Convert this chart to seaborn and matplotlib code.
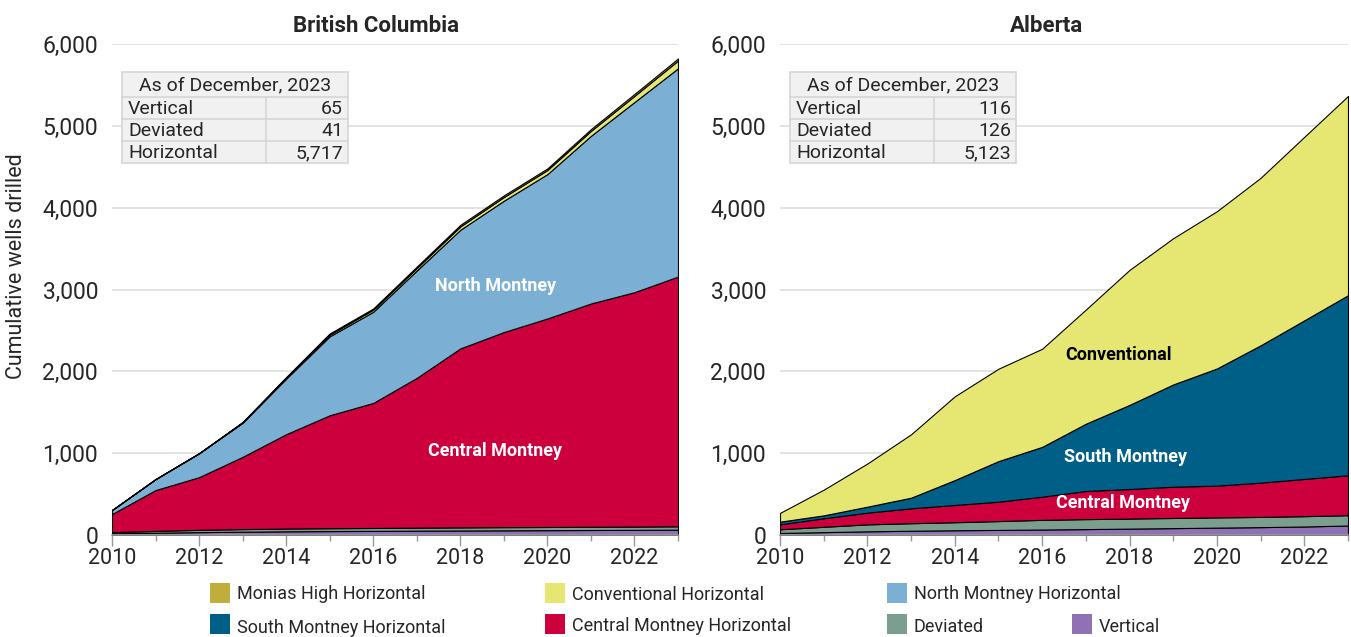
import numpy as np
import pandas as pd
import matplotlib
matplotlib.use("Agg")
import matplotlib.pyplot as plt
from matplotlib.patches import Rectangle
from matplotlib.lines import Line2D
import seaborn as sns

# ---------------- data ----------------
years = list(range(2010, 2024))

bc_vertical = [20, 28, 35, 40, 45, 48, 50, 53, 55, 57, 59, 61, 63, 65]
bc_deviated = [15, 22, 28, 32, 34, 35, 36, 37, 38, 39, 39, 40, 40, 41]
bc_central = [221, 499, 644, 883, 1153, 1380, 1528, 1830, 2187, 2384, 2548, 2728, 2864, 3052]
bc_north = [49, 134, 291, 417, 679, 965, 1114, 1312, 1450, 1605, 1764, 2049, 2324, 2545]
bc_conventional = [0, 0, 2, 5, 10, 20, 25, 30, 40, 45, 50, 60, 75, 95]
bc_monias = [0, 0, 0, 5, 10, 15, 15, 18, 20, 20, 20, 22, 24, 25]

ab_vertical = [25, 35, 45, 52, 58, 62, 67, 72, 78, 84, 90, 96, 104, 116]
ab_deviated = [45, 65, 85, 92, 98, 108, 118, 122, 123, 124, 125, 125, 126, 126]
ab_central = [60, 104, 143, 182, 211, 237, 283, 344, 361, 382, 388, 419, 455, 488]
ab_south = [33, 36, 73, 130, 304, 496, 609, 822, 1028, 1250, 1432, 1678, 1938, 2200]
ab_conventional = [107, 314, 528, 775, 1024, 1129, 1199, 1395, 1650, 1787, 1922, 2047, 2243, 2435]

bc_table = [["Vertical", "65"], ["Deviated", "41"], ["Horizontal", "5,717"]]
ab_table = [["Vertical", "116"], ["Deviated", "126"], ["Horizontal", "5,123"]]
table_header = "As of December, 2023"

colors = {
    "Monias High Horizontal": "#BFAE3B",
    "Conventional Horizontal": "#E6E673",
    "North Montney Horizontal": "#7BAFD4",
    "South Montney Horizontal": "#005F87",
    "Central Montney Horizontal": "#CC003D",
    "Deviated": "#7B9E8F",
    "Vertical": "#8E72B4",
}

# ---------------- style ----------------
sns.set_theme(style="white")
plt.rcParams["font.family"] = ["Roboto", "DejaVu Sans"]

W, H = 1351, 637
fig = plt.figure(figsize=(W / 100, H / 100), dpi=100)


def fx(px):
    return px / W


def fy(py):
    return 1 - py / H


ax_bc = fig.add_axes([fx(112), fy(535), fx(678) - fx(112), fy(44) - fy(535)])
ax_ab = fig.add_axes([fx(780), fy(535), fx(1348) - fx(780), fy(44) - fy(535)])

bc_df = pd.DataFrame({
    "Vertical": bc_vertical,
    "Deviated": bc_deviated,
    "Central Montney Horizontal": bc_central,
    "North Montney Horizontal": bc_north,
    "Conventional Horizontal": bc_conventional,
    "Monias High Horizontal": bc_monias,
}, index=years)

ab_df = pd.DataFrame({
    "Vertical": ab_vertical,
    "Deviated": ab_deviated,
    "Central Montney Horizontal": ab_central,
    "South Montney Horizontal": ab_south,
    "Conventional Horizontal": ab_conventional,
}, index=years)


def draw(ax, df, title, title_x):
    ax.stackplot(df.index, *[df[c].values for c in df.columns],
                 colors=[colors[c] for c in df.columns],
                 edgecolor="black", linewidth=0.8, zorder=3)
    ax.set_xlim(2010, 2023)
    ax.set_ylim(0, 6000)
    ax.set_yticks(range(0, 6001, 1000))
    ax.set_yticklabels([f"{v:,}" for v in range(0, 6001, 1000)], fontsize=16.5)
    ax.set_xticks(range(2010, 2024, 2))
    ax.set_xticks(range(2011, 2024, 2), minor=True)
    ax.set_xticklabels([str(y) for y in range(2010, 2024, 2)], fontsize=15.5)
    ax.tick_params(axis="x", which="major", length=8, width=1, color="#999999",
                   bottom=True, pad=1)
    ax.tick_params(axis="x", which="minor", length=4, width=1, color="#999999",
                   bottom=True)
    ax.tick_params(axis="y", length=0, pad=10)
    ax.yaxis.grid(True, color="#DDDDDD", linewidth=1.2, zorder=0)
    ax.xaxis.grid(False)
    ax.set_axisbelow(True)
    sns.despine(ax=ax, left=True, top=True, right=True)
    ax.spines["bottom"].set_color("#999999")
    ax.spines["bottom"].set_linewidth(1.2)
    ax.spines["bottom"].set_zorder(4)
    ax.set_title(title, fontsize=16, fontweight="bold", pad=9, x=title_x)
    ax.set_xlabel("")


draw(ax_bc, bc_df, "British Columbia", 0.467)
draw(ax_ab, ab_df, "Alberta", 0.47)
ax_bc.set_ylabel("Cumulative wells drilled", fontsize=15.5)
ax_bc.yaxis.set_label_coords(-0.15, 0.548)

# in-chart labels
lab_kw = dict(fontsize=13, fontweight="bold", ha="center", va="center", zorder=5)
ax_bc.text(2018.8, 3040, "North Montney", color="white", **lab_kw)
ax_bc.text(2018.8, 1030, "Central Montney", color="white", **lab_kw)
ax_ab.text(2017.75, 2200, "Conventional", color="black", **lab_kw)
ax_ab.text(2017.9, 950, "South Montney", color="white", **lab_kw)
ax_ab.text(2017.85, 390, "Central Montney", color="white", **lab_kw)


# summary tables
def draw_table(x0, rows):
    x1 = x0 + 226
    xs = x0 + 144
    y0 = 72
    rh = [25, 22, 22, 22]
    bg = "#F1F1F1"
    ec = "#D6D6D6"
    total_h = sum(rh)
    fig.add_artist(Rectangle((fx(x0), fy(y0 + total_h)), fx(x1) - fx(x0),
                             fy(y0) - fy(y0 + total_h), transform=fig.transFigure,
                             facecolor=bg, edgecolor=ec, linewidth=1.2, zorder=6))
    yy = y0
    fig.text(fx((x0 + x1) / 2), fy(yy + rh[0] / 2 + 1), table_header, ha="center",
             va="center", fontsize=14, zorder=7)
    yy += rh[0]
    for i, (lab, val) in enumerate(rows):
        fig.add_artist(Line2D([fx(x0), fx(x1)], [fy(yy), fy(yy)],
                              transform=fig.transFigure, color=ec, lw=1.2, zorder=7))
        fig.text(fx(x0 + 6), fy(yy + rh[i + 1] / 2 + 1), lab, ha="left", va="center",
                 fontsize=14, zorder=7)
        fig.text(fx(x1 - 5), fy(yy + rh[i + 1] / 2 + 1), val, ha="right", va="center",
                 fontsize=14, zorder=7)
        yy += rh[i + 1]
    fig.add_artist(Line2D([fx(xs), fx(xs)], [fy(y0 + rh[0]), fy(y0 + total_h)],
                          transform=fig.transFigure, color=ec, lw=1.2, zorder=7))


draw_table(122, bc_table)
draw_table(790, ab_table)

# legend
legend_items = [
    ("Monias High Horizontal", 210, 583, 594),
    ("Conventional Horizontal", 545, 583, 595),
    ("North Montney Horizontal", 887, 583, 594),
    ("South Montney Horizontal", 210, 614, 628),
    ("Central Montney Horizontal", 545, 614, 626),
    ("Deviated", 887, 614, 627),
    ("Vertical", 1072, 614, 627),
]
for name, px, py, ty in legend_items:
    fig.add_artist(Rectangle((fx(px), fy(py + 20)), fx(20), 20 / H,
                             transform=fig.transFigure, facecolor=colors[name],
                             edgecolor="none"))
    fig.text(fx(px + 27), fy(ty), name, ha="left", va="center", fontsize=13)

fig.savefig("out.png", dpi=100)
